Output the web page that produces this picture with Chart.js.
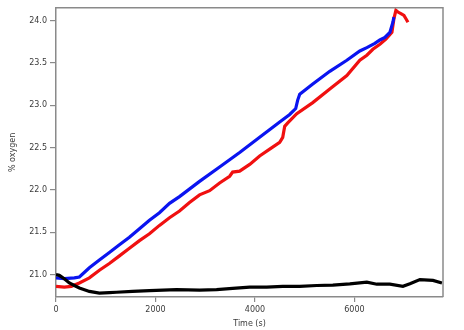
<!DOCTYPE html>
<html>
<head>
<meta charset="utf-8">
<script src="https://cdn.jsdelivr.net/npm/chart.js@4/dist/chart.umd.min.js"></script>
<style>
  html, body { margin: 0; padding: 0; background: #fff; }
  #wrap { width: 464px; height: 330px; }
</style>
</head>
<body>
<div id="wrap"><canvas id="chart" width="464" height="330"></canvas></div>
<script>
// values (time in s, % oxygen)
const blueTime = [0, 167, 369, 470, 671, 872, 1073, 1275, 1476, 1678, 1879, 2080, 2282, 2483, 2886, 3289, 3692, 4094, 4497, 4698, 4819, 4859, 4900, 5162, 5504, 5847, 6108, 6249, 6410, 6511, 6612, 6712, 6773, 6793];
const blueO2 = [20.96, 20.95, 20.96, 20.97, 21.08, 21.17, 21.26, 21.35, 21.44, 21.54, 21.64, 21.73, 21.84, 21.92, 22.10, 22.27, 22.44, 22.62, 22.80, 22.89, 22.96, 23.06, 23.13, 23.25, 23.40, 23.53, 23.64, 23.68, 23.73, 23.77, 23.80, 23.86, 23.98, 24.04];

const redTime = [0, 167, 308, 470, 671, 872, 1073, 1275, 1476, 1678, 1879, 2080, 2282, 2483, 2684, 2886, 3088, 3289, 3491, 3551, 3692, 3894, 4094, 4296, 4497, 4558, 4598, 4659, 4840, 5162, 5504, 5847, 6108, 6249, 6370, 6511, 6632, 6753, 6793, 6833, 6874, 6934, 6995, 7035, 7075];
const redO2 = [20.86, 20.85, 20.86, 20.90, 20.96, 21.05, 21.13, 21.22, 21.31, 21.40, 21.48, 21.58, 21.67, 21.75, 21.85, 21.94, 21.99, 22.08, 22.16, 22.21, 22.22, 22.30, 22.40, 22.48, 22.56, 22.62, 22.75, 22.79, 22.90, 23.03, 23.19, 23.35, 23.53, 23.59, 23.66, 23.72, 23.78, 23.86, 24.02, 24.12, 24.10, 24.08, 24.06, 24.02, 23.98];

const blackTime = [0, 66, 167, 268, 369, 470, 671, 872, 1073, 1214, 1536, 1879, 2423, 2886, 3228, 3551, 3894, 4236, 4558, 4900, 5242, 5565, 5907, 6249, 6450, 6712, 6974, 7115, 7316, 7578, 7759];
const blackO2 = [21.00, 20.99, 20.95, 20.90, 20.87, 20.84, 20.80, 20.78, 20.785, 20.79, 20.80, 20.81, 20.82, 20.815, 20.82, 20.835, 20.85, 20.85, 20.86, 20.86, 20.87, 20.875, 20.89, 20.91, 20.885, 20.885, 20.86, 20.89, 20.94, 20.93, 20.90];

const xTicks = [0, 2000, 4000, 6000];
const yTicks = [21.0, 21.5, 22.0, 22.5, 23.0, 23.5, 24.0];

function toPoints(xs, ys) {
    return xs.map((x, i) => ({ x: x, y: ys[i] }));
}

const axisGray = '#8a8a8a';
const textGray = '#3a3a3a';
const tickFont = { family: 'DejaVu Sans', size: 8 };

// top and right sides of the plot frame
const framePlugin = {
    id: 'frame',
    afterDraw(chart) {
        const a = chart.chartArea;
        const ctx = chart.ctx;
        ctx.save();
        ctx.strokeStyle = axisGray;
        ctx.lineWidth = 1.5;
        ctx.beginPath();
        ctx.moveTo(a.left, a.top);
        ctx.lineTo(a.right, a.top);
        ctx.lineTo(a.right, a.bottom);
        ctx.stroke();
        ctx.restore();
    }
};

const ctx = document.getElementById('chart').getContext('2d');
new Chart(ctx, {
    type: 'line',
    data: {
        datasets: [
            { data: toPoints(blackTime, blackO2), borderColor: '#000000', order: 1 },
            { data: toPoints(blueTime, blueO2), borderColor: '#0a14f0', order: 2 },
            { data: toPoints(redTime, redO2), borderColor: '#f01010', order: 3 }
        ]
    },
    options: {
        responsive: false,
        animation: false,
        events: [],
        layout: { padding: { top: 5, right: 21, left: 0, bottom: 0 } },
        elements: {
            line: { borderWidth: 3.2, tension: 0 },
            point: { radius: 0 }
        },
        plugins: { legend: { display: false }, tooltip: { enabled: false } },
        scales: {
            x: {
                type: 'linear',
                min: 0,
                max: 7780,
                afterFit(scale) { scale.height = 33; },
                afterBuildTicks(scale) { scale.ticks = xTicks.map(v => ({ value: v })); },
                grid: { drawOnChartArea: false, color: axisGray, tickLength: 5, lineWidth: 1.2 },
                border: { color: axisGray, width: 1.5 },
                ticks: { font: tickFont, color: textGray, padding: 3, maxRotation: 0, callback: v => String(v) },
                title: { display: true, text: 'Time (s)', font: tickFont, color: textGray, padding: { top: 0, bottom: 1 } }
            },
            y: {
                min: 20.734,
                max: 24.15,
                afterFit(scale) { scale.width = 56; },
                afterBuildTicks(scale) { scale.ticks = yTicks.map(v => ({ value: v })); },
                grid: { drawOnChartArea: false, color: axisGray, tickLength: 6, lineWidth: 1.2 },
                border: { color: axisGray, width: 1.5 },
                ticks: { font: tickFont, color: textGray, padding: 3, callback: v => v.toFixed(1) },
                title: { display: true, text: '% oxygen', font: tickFont, color: textGray, padding: { top: 8, bottom: 0 } }
            }
        }
    },
    plugins: [framePlugin]
});
</script>
</body>
</html>
